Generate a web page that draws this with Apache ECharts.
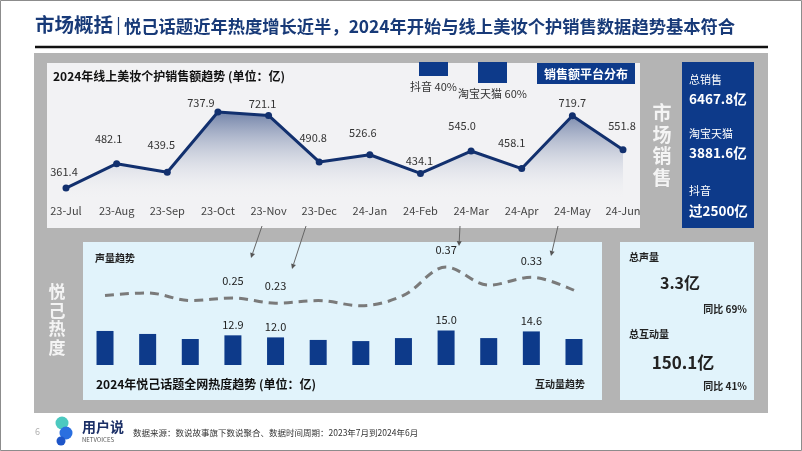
<!DOCTYPE html>
<html>
<head>
<meta charset="utf-8">
<script src="https://cdn.jsdelivr.net/npm/echarts@6/dist/echarts.min.js"></script>
<style>
  html, body { margin: 0; padding: 0; background: #fff; }
  #main { width: 802px; height: 451px; }
</style>
</head>
<body>
<div id="main"></div>
<script>
// 线上美妆个护销售额 (亿)
const months = ['23-Jul', '23-Aug', '23-Sep', '23-Oct', '23-Nov', '23-Dec', '24-Jan', '24-Feb', '24-Mar', '24-Apr', '24-May', '24-Jun'];
const salesValues = [361.4, 482.1, 439.5, 737.9, 721.1, 490.8, 526.6, 434.1, 545.0, 458.1, 719.7, 551.8];
// 销售额平台分布
const platforms = ['抖音', '淘宝天猫'];
const platformShare = [40, 60];
// 悦己话题 声量 / 互动量 (亿)
const voiceValues = [0.26, 0.27, 0.24, 0.25, 0.23, 0.24, 0.22, 0.26, 0.37, 0.30, 0.33, 0.28];
const interactValues = [14.8, 13.5, 11.3, 12.9, 12.0, 10.9, 10.4, 11.7, 15.0, 11.7, 14.6, 11.3];
const labelledIdx = [3, 4, 8, 10];

// label nudges for the sales line (style only)
const salesLabelShift = [[-2, -16], [-8, -25], [-6, -28], [-17, -9], [-6, -12], [-6, -24], [-7, -22], [-1, -13], [-9, -25], [-10, -26], [0, -13], [-1, -24]];

const FONT = '"Noto Sans CJK SC", "Noto Sans", sans-serif';
const NAVY = '#0d3a8a';

const chart = echarts.init(document.getElementById('main'));

function txt(text, x, y, size, opt) {
  opt = opt || {};
  return {
    type: 'text', z: opt.z || 5,
    style: {
      text: text, x: x, y: y,
      fill: opt.color || '#222',
      fontSize: size,
      fontWeight: opt.weight || 'normal',
      fontFamily: FONT,
      textAlign: opt.align || 'left',
      textVerticalAlign: 'middle'
    }
  };
}

function rect(x, y, w, h, fill, stroke) {
  return {
    type: 'rect', z: 0,
    shape: {x: x, y: y, width: w, height: h},
    style: {fill: fill, stroke: stroke || null}
  };
}

// 细箭头
function arrow(x1, y1, x2, y2) {
  const a = Math.atan2(y2 - y1, x2 - x1);
  const len = 5, w = 2.5;
  const bx = x2 - len * Math.cos(a), by = y2 - len * Math.sin(a);
  return [
    {type: 'line', z: 6, shape: {x1: x1, y1: y1, x2: bx, y2: by}, style: {stroke: '#666', lineWidth: 1}},
    {type: 'polygon', z: 6, shape: {points: [[x2, y2], [bx + w * Math.sin(a), by - w * Math.cos(a)], [bx - w * Math.sin(a), by + w * Math.cos(a)]]}, style: {fill: '#555'}}
  ];
}

function vertical(chars, x, y0, step, size) {
  return chars.split('').map((c, i) => txt(c, x, y0 + i * step, size, {color: '#f4f4f4', weight: 'bold', align: 'center'}));
}

const graphics = [].concat(
  [
    rect(0.5, 0.5, 801, 450, null, '#8c8c8c'),
    rect(34, 53, 734, 360, '#b4b4b4'),
    rect(47, 63, 593, 165, '#f2f2f4'),
    rect(682, 62, 72, 166, NAVY),
    rect(83, 242, 519, 158, '#e1f3fb'),
    rect(620, 242, 134, 158, '#e1f3fb'),
    rect(537, 63, 98, 21, NAVY),
    {type: 'line', z: 1, shape: {x1: 35, y1: 47, x2: 768, y2: 47}, style: {stroke: '#111', lineWidth: 2.5}},
    txt('市场概括', 35, 25, 19.5, {color: '#183a78', weight: 'bold'}),
    {type: 'line', z: 1, shape: {x1: 118.5, y1: 17, x2: 118.5, y2: 35}, style: {stroke: '#183a78', lineWidth: 1.2}},
    txt('悦己话题近年热度增长近半，2024年开始与线上美妆个护销售数据趋势基本符合', 124, 26, 17.3, {color: '#183a78', weight: 'bold'}),
    txt('2024年线上美妆个护销售额趋势 (单位：亿)', 53, 76, 12, {color: '#111', weight: 'bold'}),
    txt('销售额平台分布', 586, 74, 12, {color: '#fff', weight: 'bold', align: 'center'}),
    txt('总销售', 689, 80, 11, {color: '#fff'}),
    txt('6467.8亿', 689, 99, 13.5, {color: '#fff', weight: 'bold'}),
    txt('淘宝天猫', 689, 134, 11, {color: '#fff'}),
    txt('3881.6亿', 689, 153, 13.5, {color: '#fff', weight: 'bold'}),
    txt('抖音', 689, 191, 11, {color: '#fff'}),
    txt('过2500亿', 689, 211, 13.5, {color: '#fff', weight: 'bold'}),
    txt('声量趋势', 95, 258, 10, {color: '#222', weight: 'bold'}),
    txt('2024年悦己话题全网热度趋势 (单位：亿)', 96, 384, 12, {color: '#111', weight: 'bold'}),
    txt('互动量趋势', 585, 384, 10, {color: '#222', weight: 'bold', align: 'right'}),
    txt('总声量', 629, 257, 10, {color: '#222', weight: 'bold'}),
    txt('3.3亿', 680, 283, 16, {color: '#222', weight: 'bold', align: 'center'}),
    txt('同比 69%', 747, 309, 10, {color: '#222', weight: 'bold', align: 'right'}),
    txt('总互动量', 629, 334, 10, {color: '#222', weight: 'bold'}),
    txt('150.1亿', 683, 363, 17, {color: '#222', weight: 'bold', align: 'center'}),
    txt('同比 41%', 747, 386, 10, {color: '#222', weight: 'bold', align: 'right'}),
    // footer
    txt('6', 35, 432, 9, {color: '#b0b0b0'}),
    {type: 'circle', z: 3, shape: {cx: 62, cy: 423, r: 6.5}, style: {fill: '#4cc9c0'}},
    {type: 'circle', z: 4, shape: {cx: 66, cy: 433, r: 6.5}, style: {fill: '#2a6fe0'}},
    {type: 'circle', z: 4, shape: {cx: 61, cy: 441, r: 4.5}, style: {fill: '#1d55c8'}},
    txt('用户说', 82, 427, 14, {color: '#1b2f66', weight: 'bold'}),
    txt('NETVOICES', 82, 440, 6, {color: '#555'}),
    txt('数据来源：数说故事旗下数说聚合、数据时间周期：2023年7月到2024年6月', 133, 433, 8.5, {color: '#333'})
  ],
  vertical('市场销售', 662, 113, 21.5, 19),
  vertical('悦己热度', 57, 292, 18.5, 17),
  arrow(262, 226, 251, 258),
  arrow(306, 226, 292, 269),
  arrow(460, 226, 459, 246),
  arrow(558, 226, 551, 256)
);

const option = {
  animation: false,
  textStyle: {fontFamily: FONT},
  graphic: {elements: graphics},
  grid: [
    {left: 66, width: 557, top: 99.5, height: 101},
    {left: 404, width: 118, top: 62, height: 35},
    {left: 83.7, width: 511.6, top: 319, height: 46},
    {left: 83.7, width: 511.6, top: 246.4, height: 64.5}
  ],
  xAxis: [
    {
      gridIndex: 0, type: 'category', data: months, boundaryGap: false,
      axisLine: {show: false}, axisTick: {show: false},
      axisLabel: {color: '#444', fontSize: 11, margin: 5, interval: 0}
    },
    {gridIndex: 1, type: 'category', data: platforms, show: false},
    {gridIndex: 2, type: 'category', data: months, show: false},
    {gridIndex: 3, type: 'category', data: months, show: false}
  ],
  yAxis: [
    {gridIndex: 0, type: 'value', min: 300, max: 800, show: false},
    {gridIndex: 1, type: 'value', min: 0, max: 100, inverse: true, show: false},
    {gridIndex: 2, type: 'value', min: 0, max: 20, show: false},
    {gridIndex: 3, type: 'value', min: 0.2, max: 0.45, show: false}
  ],
  series: [
    {
      name: '销售额', type: 'line', xAxisIndex: 0, yAxisIndex: 0,
      symbol: 'circle', symbolSize: 7,
      lineStyle: {color: '#12306e', width: 3},
      itemStyle: {color: '#12306e'},
      areaStyle: {
        origin: 'start',
        color: new echarts.graphic.LinearGradient(0, 0, 0, 1, [
          {offset: 0, color: 'rgba(28, 56, 118, 0.85)'},
          {offset: 1, color: 'rgba(242, 242, 244, 0)'}
        ])
      },
      data: salesValues.map((v, i) => ({
        value: v,
        label: {
          show: true, position: 'inside', offset: salesLabelShift[i],
          color: '#333', fontSize: 11,
          formatter: p => p.value.toFixed(1)
        }
      }))
    },
    {
      name: '平台分布', type: 'bar', xAxisIndex: 1, yAxisIndex: 1,
      barWidth: 29, itemStyle: {color: NAVY},
      label: {
        show: true, position: 'bottom', distance: 5,
        color: '#333', fontSize: 11,
        formatter: p => p.name + ' ' + p.value + '%'
      },
      data: platformShare
    },
    {
      name: '互动量', type: 'bar', xAxisIndex: 2, yAxisIndex: 2,
      barWidth: 17, itemStyle: {color: NAVY},
      data: interactValues.map((v, i) => ({
        value: v,
        label: {
          show: labelledIdx.includes(i), position: 'top', distance: 5,
          color: '#222', fontSize: 11,
          formatter: p => p.value.toFixed(1)
        }
      }))
    },
    {
      name: '声量', type: 'line', xAxisIndex: 3, yAxisIndex: 3,
      smooth: 0.35, symbol: 'circle', symbolSize: 1, showSymbol: true,
      itemStyle: {color: 'rgba(0,0,0,0)'},
      lineStyle: {color: '#7a7a7a', width: 3, type: [9, 6]},
      data: voiceValues.map((v, i) => ({
        value: v,
        label: {
          show: labelledIdx.includes(i), position: 'top', distance: 11,
          color: '#222', fontSize: 11,
          formatter: p => p.value.toFixed(2)
        }
      }))
    }
  ]
};

chart.setOption(option);
</script>
</body>
</html>
